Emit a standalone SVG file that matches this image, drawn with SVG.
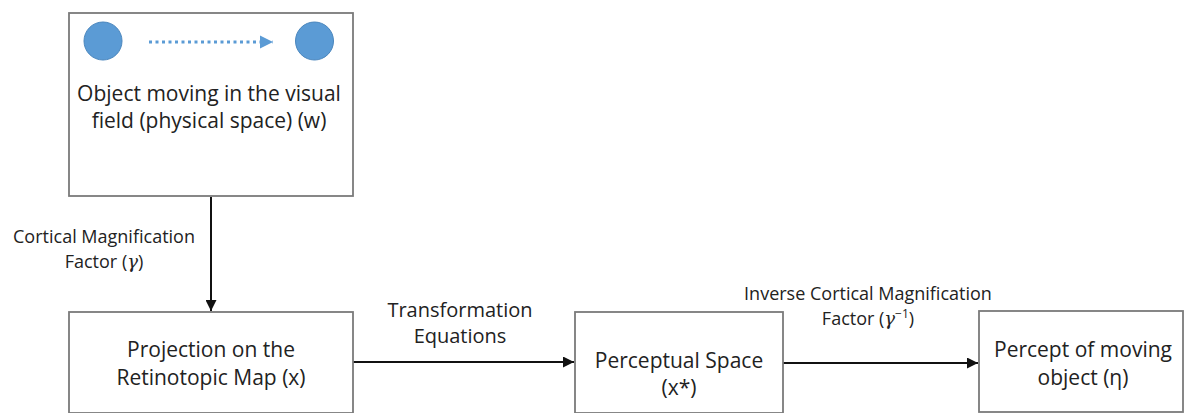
<svg xmlns="http://www.w3.org/2000/svg" width="1187" height="413" viewBox="0 0 1187 413">
<style>
.box{fill:#ffffff;stroke:#7a7a7a;stroke-width:1.8}
.t{font-family:"Open Sans","Liberation Sans",sans-serif;fill:#222222;text-anchor:middle}
.main{font-size:21px}
.lbl{font-size:18px}
.m{font-family:"DejaVu Serif","Liberation Serif",serif;font-style:italic}
.conn{stroke:#111111;stroke-width:2;fill:none}
</style>
<defs>
<marker id="ah" viewBox="0 0 10 10" refX="10" refY="5" markerWidth="5.5" markerHeight="5.5" orient="auto" markerUnits="strokeWidth">
<path d="M0,0 L10,5 L0,10 z" fill="#111111"/>
</marker>
<marker id="ahb" viewBox="0 0 10 10" refX="10" refY="5" markerWidth="4.5" markerHeight="4.5" orient="auto" markerUnits="strokeWidth">
<path d="M0,0 L10,5 L0,10 z" fill="#5b9bd5"/>
</marker>
</defs>
<rect width="1187" height="413" fill="#ffffff"/>
<g id="connectors">
<line class="conn" x1="211" y1="197" x2="211" y2="311" marker-end="url(#ah)"/>
<line class="conn" x1="353" y1="362" x2="574" y2="362" marker-end="url(#ah)"/>
<line class="conn" x1="783" y1="363" x2="978" y2="363" marker-end="url(#ah)"/>
<text class="t lbl" x="104" y="243">Cortical Magnification</text>
<text class="t lbl" x="104" y="268">Factor (<tspan class="m">γ</tspan>)</text>
<text class="t" style="font-size:20px" x="460" y="317">Transformation</text>
<text class="t" style="font-size:20px" x="460" y="343">Equations</text>
<text class="t lbl" x="868" y="300">Inverse Cortical Magnification</text>
<text class="t lbl" x="868" y="325">Factor (<tspan class="m">γ</tspan><tspan dy="-7" font-size="12">−1</tspan><tspan dy="7">)</tspan></text>
</g>
<g id="node-physical">
<rect class="box" x="69" y="13" width="284" height="183"/>
<circle cx="103" cy="41" r="19" fill="#5b9bd5" stroke="#4a86bd" stroke-width="1"/>
<circle cx="314.5" cy="41" r="19" fill="#5b9bd5" stroke="#4a86bd" stroke-width="1"/>
<line x1="149" y1="42" x2="273" y2="42" stroke="#5b9bd5" stroke-width="3" stroke-dasharray="3,3.5" marker-end="url(#ahb)"/>
<text class="t main" x="209" y="101">Object moving in the visual</text>
<text class="t main" x="209" y="128">field (physical space) (w)</text>
</g>
<g id="node-retinotopic">
<rect class="box" x="69" y="312" width="284" height="101"/>
<text class="t main" x="211" y="357">Projection on the</text>
<text class="t main" x="211" y="385">Retinotopic Map (x)</text>
</g>
<g id="node-perceptual">
<rect class="box" x="575" y="312" width="208" height="101"/>
<text class="t main" x="679" y="368">Perceptual Space</text>
<text class="t main" x="679" y="395">(x*)</text>
</g>
<g id="node-percept">
<rect class="box" x="979" y="311" width="204" height="101"/>
<text class="t main" x="1083" y="357">Percept of moving</text>
<text class="t main" x="1083" y="385">object (η)</text>
</g>
</svg>
